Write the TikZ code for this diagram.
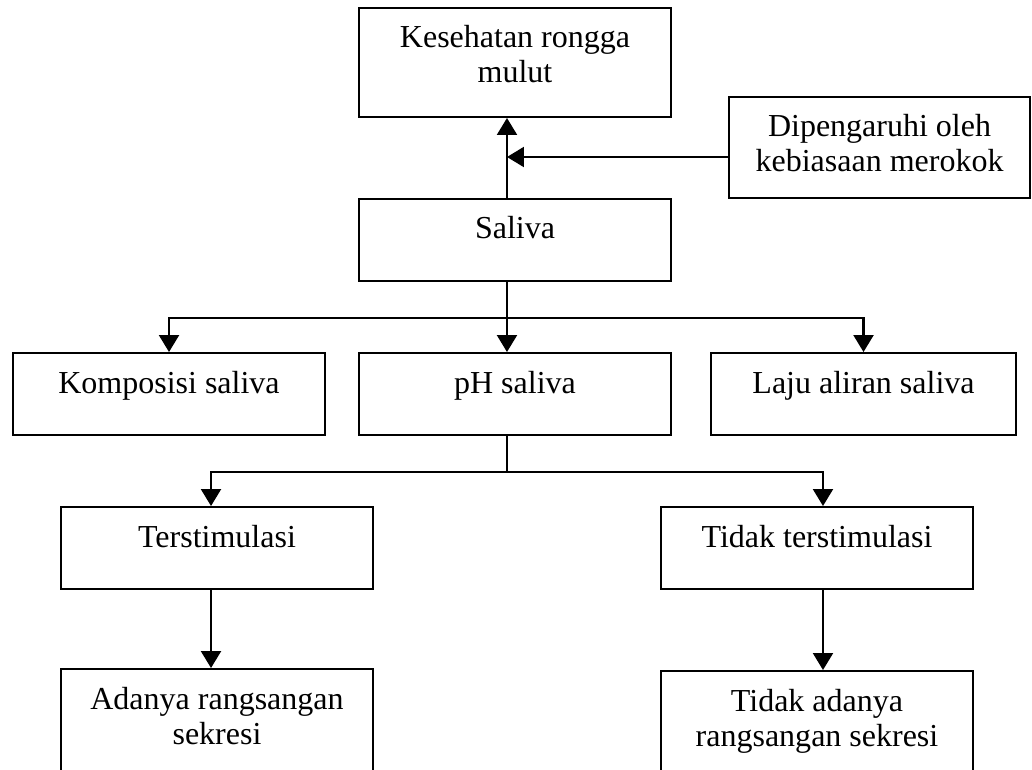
\documentclass[tikz,border=0pt]{standalone}
\usepackage{fontspec}
\setmainfont{Liberation Serif}
\usetikzlibrary{arrows.meta}

\tikzset{
	box/.style={draw,line width=1pt,minimum width=5.483cm,inner ysep=0pt,
		text height=20pt,text depth=21pt,align=center,anchor=north,
		font=\fontsize{16pt}{17.5pt}\selectfont},
	twoline/.style={text height=37.5pt,text depth=#1},
	arr/.style={line width=1.1pt,-{Triangle[length=8.5pt,width=10pt]}},
	link/.style={line width=1.1pt}
}

\begin{document}
\begin{tikzpicture}
			\clip (0,0) rectangle (18.135,-13.514);

			\node (kes) at (9.050,-0.123)[box,twoline=17pt]{Kesehatan rongga\\mulut};
			\node (dip) at (15.456,-1.687)[box,minimum width=5.289cm,twoline=13pt]{Dipengaruhi oleh\\kebiasaan merokok};
			\node (sal) at (9.050,-3.479)[box]{Saliva};

			\node (kom) at (2.970,-6.186)[box]{Komposisi saliva};
			\node (ph) at (9.050,-6.186)[box]{pH saliva};
			\node (laju) at (15.174,-6.186)[box,minimum width=5.360cm]{Laju aliran saliva};

			\node (ter) at (3.813,-8.892)[box]{Terstimulasi};
			\node (tter) at (14.357,-8.892)[box]{Tidak terstimulasi};

			\node (ada) at (3.813,-11.739)[box,twoline=24pt]{Adanya rangsangan\\sekresi};
			\node (tada) at (14.357,-11.774)[box,twoline=24pt]{Tidak adanya\\rangsangan sekresi};

			% saliva up to rongga mulut, smoking joins from the side
			\coordinate (stem) at ([xshift=-0.141cm]sal.north);
			\coordinate (dipin) at ([yshift=-0.167cm]dip.west);
			\draw[arr] (stem) -- (stem |- kes.south);
			\draw[arr] (dipin) -- (dipin -| stem);

			% saliva down to the three parts
			\coordinate (salout) at ([xshift=-0.141cm]sal.south);
			\coordinate (fork1) at ([yshift=-0.633cm]salout);
			\draw[arr] (salout) -- (salout |- ph.north);
			\draw[arr] (fork1) -- (fork1 -| kom.north) -- (kom.north);
			\draw[arr] (fork1) -- (fork1 -| laju.north) -- (laju.north);

			% pH down to the two conditions
			\coordinate (phout) at ([xshift=-0.141cm]ph.south);
			\coordinate (fork2) at ([yshift=-0.633cm]phout);
			\coordinate (terx) at ([xshift=-0.105cm]ter.north);
			\coordinate (tterx) at ([xshift=0.105cm]tter.north);
			\draw[link] (phout) -- (fork2);
			\draw[arr] (fork2) -- (fork2 -| terx) -- (terx);
			\draw[arr] (fork2) -- (fork2 -| tterx) -- (tterx);

			\draw[arr] ([xshift=-0.105cm]ter.south) -- ([xshift=-0.105cm]ada.north);
			\draw[arr] ([xshift=0.105cm]tter.south) -- ([xshift=0.105cm]tada.north);
		\end{tikzpicture}
\end{document}
